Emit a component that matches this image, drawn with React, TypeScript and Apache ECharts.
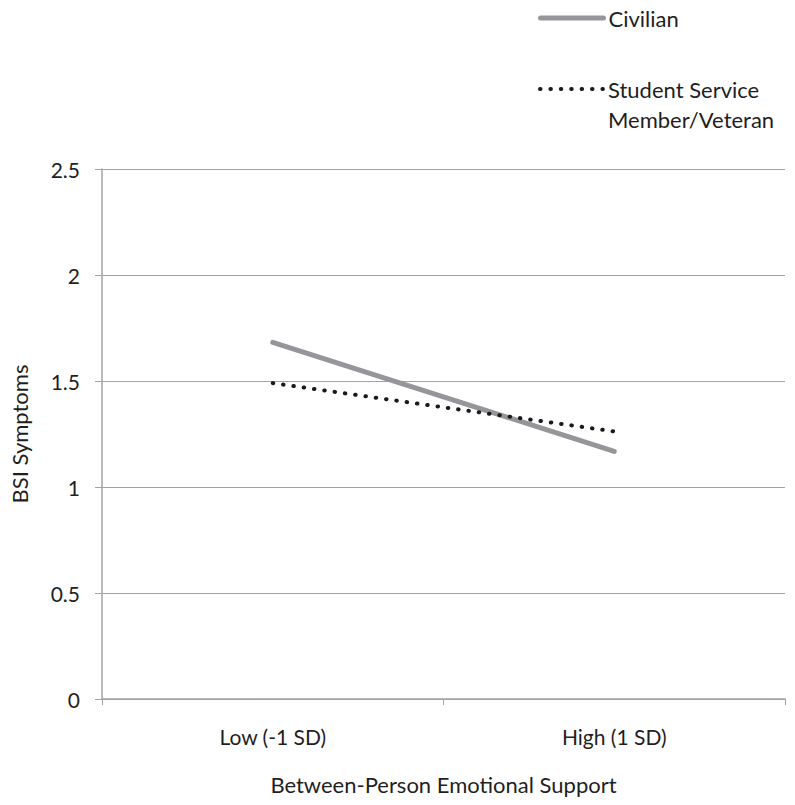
import React, { useEffect, useRef } from "react";
import * as echarts from "echarts";

const categories = ["Low (-1 SD)", "High (1 SD)"];
const civilianValues = [1.682, 1.168];
const veteranValues = [1.49, 1.262];
const seriesNames = ["Civilian", "Student Service Member/Veteran"];
const yAxisTitle = "BSI Symptoms";
const xAxisTitle = "Between-Person Emotional Support";

const FONT = "Lato, 'Open Sans', sans-serif";
const TEXT = "#1f1f1f";
const GRID = "#a3a3a3";
const CIV = "#96969a";
const VET = "#1a1a1a";

export default function App() {
  const ref = useRef<HTMLDivElement>(null);
  useEffect(() => {
    if (!ref.current) return;
    const chart = echarts.init(ref.current, null, { renderer: "svg" });
    chart.setOption({
      animation: false,
      backgroundColor: "#ffffff",
      textStyle: { fontFamily: FONT },
      grid: { left: 100, top: 169, width: 685, height: 530, containLabel: false },
      legend: [
        {
          data: [seriesNames[0]],
          orient: "vertical",
          left: 533,
          top: 0,
          itemWidth: 63,
          itemHeight: 14,
          itemStyle: { opacity: 0 },
          lineStyle: { width: 5, color: CIV },
          textStyle: { fontFamily: FONT, fontSize: 22, color: TEXT, lineHeight: 26 },
        },
        {
          data: [seriesNames[1]],
          orient: "vertical",
          left: 533,
          top: 39,
          itemWidth: 63,
          itemHeight: 14,
          itemStyle: { opacity: 0 },
          lineStyle: { width: 4, color: VET },
          formatter: () => "\nStudent Service\nMember/Veteran",
          textStyle: { fontFamily: FONT, fontSize: 22, color: TEXT, lineHeight: 30 },
        },
      ],
      xAxis: {
        type: "category",
        data: categories,
        boundaryGap: true,
        axisLine: { lineStyle: { color: GRID, width: 1.5 } },
        axisTick: { show: true, length: 6, lineStyle: { color: GRID } },
        axisLabel: { fontFamily: FONT, fontSize: 21, color: TEXT, margin: 27 },
        name: xAxisTitle,
        nameLocation: "middle",
        nameGap: 74,
        nameTextStyle: { fontFamily: FONT, fontSize: 22, color: TEXT },
      },
      yAxis: {
        type: "value",
        min: 0,
        max: 2.5,
        interval: 0.5,
        axisLine: { show: true, lineStyle: { color: GRID, width: 1.5 } },
        axisTick: { show: true, length: 7, lineStyle: { color: GRID } },
        splitLine: { show: true, lineStyle: { color: GRID, width: 1 } },
        axisLabel: { fontFamily: FONT, fontSize: 21, color: TEXT, margin: 22 },
        name: yAxisTitle,
        nameLocation: "middle",
        nameRotate: 90,
        nameGap: 72,
        nameTextStyle: { fontFamily: FONT, fontSize: 22, color: TEXT },
      },
      series: [
        {
          name: seriesNames[0],
          type: "line",
          data: civilianValues,
          showSymbol: false,
          symbol: "none",
          lineStyle: { color: CIV, width: 5, cap: "round" },
          itemStyle: { color: CIV },
        },
        {
          name: seriesNames[1],
          type: "line",
          data: veteranValues,
          showSymbol: false,
          symbol: "none",
          lineStyle: { color: VET, width: 4, type: [0.5, 9.9], cap: "round" },
          itemStyle: { color: VET },
        },
      ],
    });
    return () => chart.dispose();
  }, []);
  return (
    <div style={{ position: "fixed", left: 0, top: 0, width: 795, height: 805, background: "#fff" }}>
      <div ref={ref} style={{ width: 795, height: 805 }} />
    </div>
  );
}
